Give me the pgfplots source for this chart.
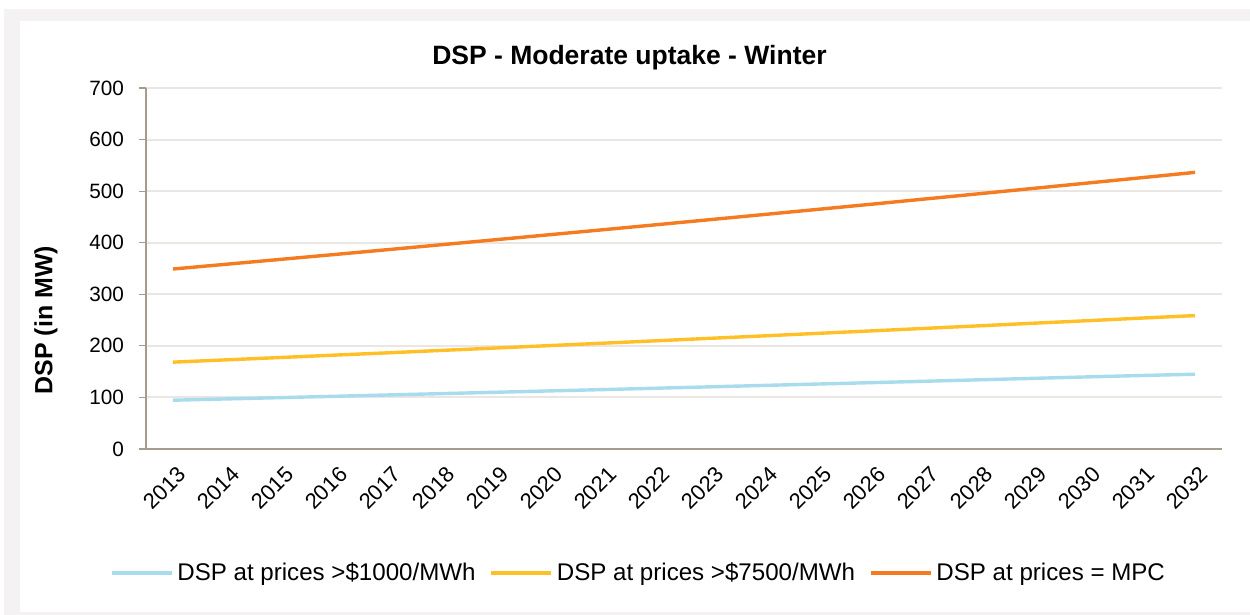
\documentclass[border=0pt]{standalone}
\usepackage{fontspec}
\setmainfont{Liberation Sans}
\usepackage{pgfplots}
\pgfplotsset{compat=1.18}
\definecolor{dspBlue}{HTML}{A8DCEC}
\definecolor{dspYellow}{HTML}{FFBF27}
\definecolor{dspOrange}{HTML}{F47B20}
\definecolor{gridGray}{HTML}{EAE6E3}
\definecolor{axisGray}{HTML}{A59C8F}
\definecolor{frameGray}{HTML}{F4F2F2}

\begin{document}
\begin{tikzpicture}
\useasboundingbox (0,0) rectangle (625bp,307.5bp);
\fill[white] (0,0) rectangle (625bp,307.5bp);
\fill[frameGray] (2bp,0) rectangle (625bp,303bp);
\fill[white] (10bp,1.5bp) rectangle (625bp,297bp);
\begin{axis}[
    at={(73bp,83bp)}, anchor=south west,
    width=538bp, height=180.5bp, scale only axis,
    xmin=-0.5, xmax=19.5,
    ymin=0, ymax=700,
    xtick={0,...,19},
    xticklabels={2013,2014,2015,2016,2017,2018,2019,2020,2021,2022,
                 2023,2024,2025,2026,2027,2028,2029,2030,2031,2032},
    minor xtick={-0.5,0.5,...,19.5},
    ytick={0,100,...,700},
    axis x line*=bottom, axis y line*=left,
    axis line style={axisGray, line width=0.8bp, -},
    tick align=outside,
    major tick length=3.5bp, minor tick length=3.5bp,
    x tick style={draw=none},
    minor x tick style={axisGray, line width=0.6bp},
    y tick style={axisGray, line width=0.6bp},
    ymajorgrids, grid style={gridGray, line width=1bp},
    /pgf/number format/assume math mode=true,
    yticklabel style={font=\fontsize{10.4}{12}\selectfont, xshift=-4bp},
    xticklabel style={font=\fontsize{11}{12}\selectfont,
        rotate=45, anchor=east, yshift=-8.5bp, xshift=1.5bp},
    legend columns=3,
    legend style={at={(0.4586,-0.3435)}, anchor=center, draw=none,
        fill=none, font=\fontsize{12.1}{13}\selectfont,
        /tikz/every even column/.append style={column sep=5bp}},
    legend image code/.code={\draw[#1, line width=1.7bp] (0bp,0bp) -- (30bp,0bp);},
    clip=false,
]
\addplot[dspBlue, line width=1.7bp] coordinates {
 (0,94.6) (1,97.1) (2,99.6) (3,102.2) (4,104.8) (5,107.4) (6,110.0) (7,112.6)
 (8,115.2) (9,117.9) (10,120.6) (11,123.3) (12,126.0) (13,128.7) (14,131.4)
 (15,134.2) (16,137.0) (17,139.8) (18,142.5) (19,145.0)
};
\addlegendentry{DSP at prices >\$1000/MWh}
\addplot[dspYellow, line width=1.7bp] coordinates {
 (0,168.4) (1,172.9) (2,177.4) (3,182.0) (4,186.5) (5,191.2) (6,195.8) (7,200.5)
 (8,205.2) (9,209.9) (10,214.7) (11,219.4) (12,224.3) (13,229.1) (14,234.0)
 (15,238.9) (16,243.9) (17,248.8) (18,253.8) (19,258.7)
};
\addlegendentry{DSP at prices >\$7500/MWh}
\addplot[dspOrange, line width=1.7bp] coordinates {
 (0,349.0) (1,358.3) (2,367.7) (3,377.1) (4,386.6) (5,396.2) (6,405.8) (7,415.5)
 (8,425.2) (9,435.0) (10,444.9) (11,454.8) (12,464.8) (13,474.8) (14,485.0)
 (15,495.1) (16,505.4) (17,515.7) (18,526.0) (19,536.4)
};
\addlegendentry{DSP at prices = MPC}
\node[font=\bfseries\fontsize{13.3}{15}\selectfont] at (rel axis cs:0.4493,1.083) {DSP - Moderate uptake - Winter};
\node[font=\bfseries\fontsize{12.5}{14}\selectfont, rotate=90] at (rel axis cs:-0.093,0.357) {DSP (in MW)};
\end{axis}
\end{tikzpicture}
\end{document}
